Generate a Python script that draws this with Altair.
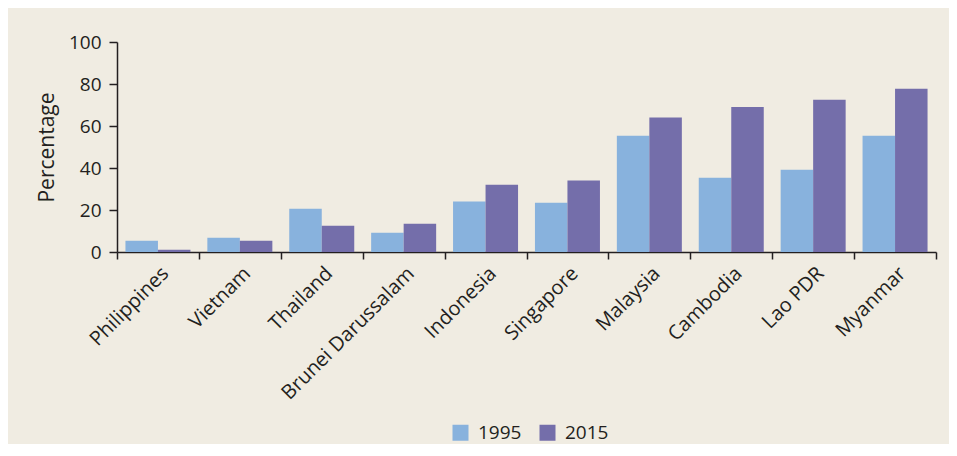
import altair as alt
import pandas as pd

countries = ["Philippines", "Vietnam", "Thailand", "Brunei Darussalam", "Indonesia",
             "Singapore", "Malaysia", "Cambodia", "Lao PDR", "Myanmar"]
values_1995 = [5.4, 6.8, 20.6, 9.2, 24.0, 23.5, 55.4, 35.4, 39.2, 55.4]
values_2015 = [1.1, 5.4, 12.5, 13.5, 32.0, 34.0, 64.0, 69.1, 72.5, 77.7]
years = ["1995", "2015"]
colors = ["#88b2dd", "#746eaa"]

rows = []
for c, a, b in zip(countries, values_1995, values_2015):
    rows.append({"country": c, "year": "1995", "value": a})
    rows.append({"country": c, "year": "2015", "value": b})
df = pd.DataFrame(rows)

FONT = "Open Sans"
INK = "#231f20"

chart = alt.Chart(df).mark_bar().encode(
    x=alt.X("country:N", sort=countries, title=None,
            scale=alt.Scale(paddingInner=0, paddingOuter=0),
            axis=alt.Axis(labelAngle=-45, tickBand="extent", tickSize=7,
                          labelPadding=4, labelFontSize=20, labelFont=FONT,
                          labelLimit=400,
                          labelColor=INK, domainColor=INK, tickColor=INK,
                          domainWidth=1.5, tickWidth=1.5)),
    xOffset=alt.XOffset("year:N", sort=years,
                        scale=alt.Scale(paddingOuter=0.26, paddingInner=0)),
    y=alt.Y("value:Q", title="Percentage",
            scale=alt.Scale(domain=[0, 100], nice=False),
            axis=alt.Axis(values=[0, 20, 40, 60, 80, 100], grid=False, tickSize=8,
                          labelPadding=8, labelFontSize=19, labelFont=FONT,
                          labelColor=INK, titleFont=FONT, titleFontSize=21,
                          titleFontWeight="normal", titleColor=INK, titlePadding=11,
                          domainColor=INK, tickColor=INK, domainWidth=1.5,
                          tickWidth=1.5)),
    color=alt.Color("year:N", sort=years,
                    scale=alt.Scale(domain=years, range=colors),
                    legend=alt.Legend(title=None, orient="none", direction="horizontal",
                                      legendX=334, legendY=381, symbolType="square",
                                      symbolSize=256, symbolStrokeWidth=0,
                                      labelFontSize=19, labelFont=FONT, labelColor=INK,
                                      labelOffset=8, columnPadding=16, padding=0)),
).properties(
    width=819,
    height=210,
    background="#f0ece2",
    autosize=alt.AutoSizeParams(type="none"),
    padding={"left": 109, "top": 34, "right": 13, "bottom": 192},
).configure_view(stroke=None)

chart.save("out.html", embed_options={"renderer": "svg", "actions": False})
